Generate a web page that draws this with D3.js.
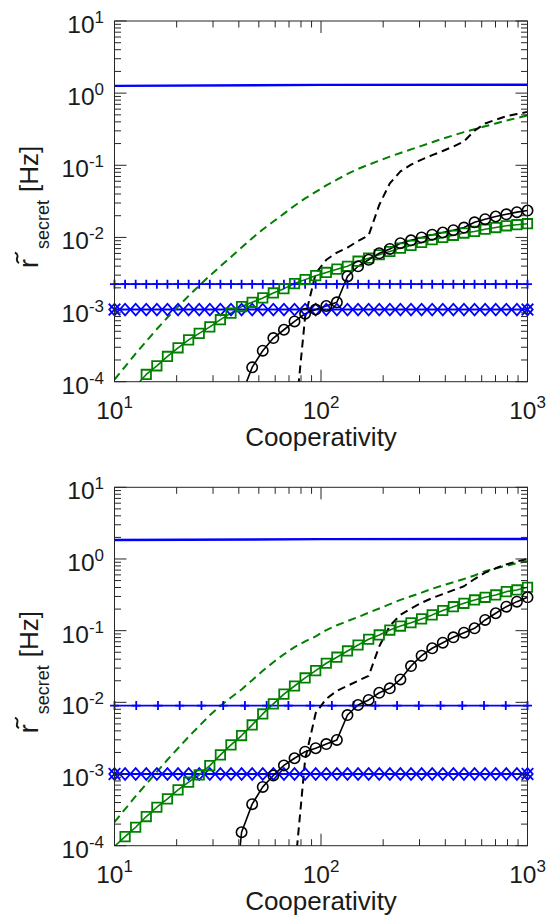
<!DOCTYPE html>
<html>
<head>
<meta charset="utf-8">
<script src="https://cdn.jsdelivr.net/npm/d3@7"></script>
<style>
  html, body { margin: 0; padding: 0; background: #fff; }
  svg { display: block; }
  text { font-family: "Liberation Sans", Arial, Helvetica, sans-serif; fill: #1a1a1a; }
</style>
</head>
<body>
<svg id="chart" width="559" height="917"></svg>
<script>
// Cooperativity sample grid (40 log-spaced points, 10 .. 1000)
const coop = [10, 11.253, 12.664, 14.251, 16.037, 18.047, 20.309, 22.854, 25.719, 28.942,
  32.569, 36.651, 41.245, 46.414, 52.231, 58.778, 66.145, 74.435, 83.764, 94.262,
  106.08, 119.37, 134.33, 151.17, 170.12, 191.44, 215.44, 242.44, 272.83, 307.02,
  345.51, 388.81, 437.54, 492.38, 554.09, 623.54, 701.70, 789.65, 888.62, 1000];
// Coarser grid (20 points) used by one of the threshold lines
const coopCoarse = [10, 12.743, 16.238, 20.691, 26.367, 33.598, 42.813, 54.556, 69.519, 88.587,
  112.88, 143.84, 183.30, 233.57, 297.64, 379.27, 483.29, 615.85, 784.76, 1000];
const coopEnds = [10, 100, 1000];

// ---- upper panel ----
const topBlueSolid = [1.26, 1.30, 1.31];
const topBluePlus = coop.map(() => 2.25e-3);
const topBlueDiamond = coop.map(() => 1.0e-3);
const topGreenDashed = [1.07e-4, 1.62e-4, 2.45e-4, 3.63e-4, 5.37e-4, 7.76e-4, 1.10e-3, 1.55e-3, 2.14e-3, 2.95e-3,
  3.98e-3, 5.37e-3, 7.24e-3, 9.77e-3, 1.29e-2, 1.66e-2, 2.14e-2, 2.75e-2, 3.47e-2, 4.27e-2,
  5.25e-2, 6.31e-2, 7.59e-2, 8.91e-2, 0.102, 0.116, 0.132, 0.148, 0.166, 0.186,
  0.209, 0.234, 0.260, 0.288, 0.316, 0.347, 0.380, 0.417, 0.452, 0.490];
const topBlackDashed = [null, null, null, null, null, null, null, null, null, null,
  null, null, null, null, null, null, null, 2.5e-5, 7.9e-4, 3.16e-3,
  4.90e-3, 6.17e-3, 7.24e-3, 8.91e-3, 1.07e-2, 2.82e-2, 5.62e-2, 8.22e-2, 0.102, 0.120,
  0.138, 0.158, 0.182, 0.214, 0.302, 0.380, 0.427, 0.479, 0.513, 0.550];
const topGreenSquares = [null, null, 8.7e-5, 1.26e-4, 1.66e-4, 2.24e-4, 2.95e-4, 3.80e-4, 4.68e-4, 5.75e-4,
  7.24e-4, 8.91e-4, 1.10e-3, 1.26e-3, 1.45e-3, 1.70e-3, 1.95e-3, 2.29e-3, 2.60e-3, 2.95e-3,
  3.27e-3, 3.63e-3, 3.98e-3, 4.68e-3, 5.16e-3, 5.75e-3, 6.38e-3, 7.11e-3, 7.76e-3, 8.51e-3,
  9.33e-3, 1.00e-2, 1.07e-2, 1.15e-2, 1.21e-2, 1.30e-2, 1.37e-2, 1.45e-2, 1.50e-2, 1.55e-2];
const topBlackCircles = [null, null, null, null, null, null, null, null, null, null,
  null, null, 6.6e-5, 1.58e-4, 2.69e-4, 4.03e-4, 5.25e-4, 6.84e-4, 8.75e-4, 1.00e-3,
  1.12e-3, 1.26e-3, 2.88e-3, 3.98e-3, 4.90e-3, 6.03e-3, 6.92e-3, 8.32e-3, 9.12e-3, 1.00e-2,
  1.09e-2, 1.17e-2, 1.26e-2, 1.37e-2, 1.62e-2, 1.79e-2, 1.95e-2, 2.09e-2, 2.24e-2, 2.36e-2];

// ---- lower panel ----
const botBlueSolid = [1.84, 1.89, 1.90];
const botBluePlus = coopCoarse.map(() => 9.0e-3);
const botBlueDiamond = coop.map(() => 1.0e-3);
const botGreenDashed = [2.14e-4, 3.24e-4, 4.90e-4, 7.24e-4, 1.07e-3, 1.58e-3, 2.29e-3, 3.31e-3, 4.68e-3, 6.61e-3,
  8.91e-3, 1.17e-2, 1.51e-2, 2.04e-2, 2.75e-2, 3.63e-2, 4.68e-2, 5.89e-2, 7.08e-2, 8.32e-2,
  0.102, 0.119, 0.136, 0.155, 0.178, 0.204, 0.234, 0.269, 0.302, 0.339,
  0.385, 0.427, 0.473, 0.525, 0.589, 0.676, 0.741, 0.804, 0.871, 0.933];
const botBlackDashed = [null, null, null, null, null, null, null, null, null, null,
  null, null, null, null, null, null, null, 4.0e-5, 1.58e-3, 7.08e-3,
  1.12e-2, 1.45e-2, 1.70e-2, 2.00e-2, 2.34e-2, 6.03e-2, 0.117, 0.166, 0.204, 0.245,
  0.285, 0.324, 0.367, 0.417, 0.525, 0.646, 0.741, 0.841, 0.923, 1.00];
const botGreenSquares = [9.8e-5, 1.34e-4, 1.81e-4, 2.55e-4, 3.44e-4, 4.50e-4, 6.00e-4, 7.69e-4, 9.70e-4, 1.31e-3,
  1.85e-3, 2.55e-3, 3.44e-3, 4.84e-3, 6.89e-3, 9.51e-3, 1.30e-2, 1.69e-2, 2.19e-2, 2.77e-2,
  3.51e-2, 4.26e-2, 5.21e-2, 6.31e-2, 7.59e-2, 8.71e-2, 0.102, 0.116, 0.129, 0.146,
  0.166, 0.191, 0.216, 0.241, 0.268, 0.292, 0.315, 0.350, 0.370, 0.403];
const botBlackCircles = [null, null, null, null, null, null, null, null, null, null,
  null, 5.0e-6, 1.54e-4, 3.80e-4, 6.61e-4, 9.55e-4, 1.32e-3, 1.66e-3, 2.05e-3, 2.29e-3,
  2.62e-3, 2.99e-3, 6.65e-3, 9.18e-3, 1.08e-2, 1.36e-2, 1.57e-2, 2.09e-2, 3.21e-2, 4.48e-2,
  5.68e-2, 6.79e-2, 8.07e-2, 9.38e-2, 0.108, 0.141, 0.175, 0.216, 0.254, 0.292];

const xDomain = [10, 1000];
const yDomain = [1e-4, 10];
const xTickLabels = [10, 100, 1000];
const yTickLabels = [1e-4, 1e-3, 1e-2, 1e-1, 1, 10];

const BLUE = "#0000ff", GREEN = "#008000", BLACK = "#000000", AXIS = "#262626";

const svg = d3.select("#chart");
svg.append("rect").attr("width", 559).attr("height", 917).attr("fill", "#fff");

const panels = [
  { top: 21, bottom: 381.7, id: "a",
    series: [
      { xs: coopEnds, ys: topBlueSolid, color: BLUE, width: 2.4 },
      { xs: coop, ys: topBluePlus, color: BLUE, width: 1.9, marker: "plus" },
      { xs: coop, ys: topBlueDiamond, color: BLUE, width: 1.9, marker: "diamond", endMarker: "x" },
      { xs: coop, ys: topGreenDashed, color: GREEN, width: 2, dash: "8,5" },
      { xs: coop, ys: topBlackDashed, color: BLACK, width: 2, dash: "8,5" },
      { xs: coop, ys: topGreenSquares, color: GREEN, width: 1.6, marker: "square" },
      { xs: coop, ys: topBlackCircles, color: BLACK, width: 1.6, marker: "circle" }
    ] },
  { top: 487.3, bottom: 845.7, id: "b",
    series: [
      { xs: coopEnds, ys: botBlueSolid, color: BLUE, width: 2.4 },
      { xs: coopCoarse, ys: botBluePlus, color: BLUE, width: 1.9, marker: "plus" },
      { xs: coop, ys: botBlueDiamond, color: BLUE, width: 1.9, marker: "diamond", endMarker: "x" },
      { xs: coop, ys: botGreenDashed, color: GREEN, width: 2, dash: "8,5" },
      { xs: coop, ys: botBlackDashed, color: BLACK, width: 2, dash: "8,5" },
      { xs: coop, ys: botGreenSquares, color: GREEN, width: 1.6, marker: "square" },
      { xs: coop, ys: botBlackCircles, color: BLACK, width: 1.6, marker: "circle" }
    ] }
];

const LEFT = 114.5, RIGHT = 527.5;

function markerPath(type) {
  switch (type) {
    case "square": return "M-4.7,-4.7H4.7V4.7H-4.7Z";
    case "diamond": return "M0,-5.8L5.2,0L0,5.8L-5.2,0Z";
    case "plus": return "M-4.5,0H4.5M0,-4.5V4.5";
    case "x": return "M-5.8,-5.8L5.8,5.8M-5.8,5.8L5.8,-5.8";
  }
  return null;
}

function drawPanel(p) {
  const x = d3.scaleLog().domain(xDomain).range([LEFT, RIGHT]);
  const y = d3.scaleLog().domain(yDomain).range([p.bottom, p.top]);
  const g = svg.append("g");

  g.append("clipPath").attr("id", "clip-" + p.id)
    .append("rect").attr("x", LEFT).attr("y", p.top)
    .attr("width", RIGHT - LEFT).attr("height", p.bottom - p.top);

  const lines = g.append("g").attr("clip-path", "url(#clip-" + p.id + ")");
  const marks = g.append("g");

  p.series.forEach(s => {
    const pts = s.xs.map((c, i) => [c, s.ys[i]]);
    const line = d3.line().defined(d => d[1] != null)
      .x(d => x(d[0])).y(d => y(d[1]));
    lines.append("path").datum(pts)
      .attr("d", line)
      .attr("fill", "none")
      .attr("stroke", s.color)
      .attr("stroke-width", s.width)
      .attr("stroke-dasharray", s.dash || null)
      .attr("stroke-linejoin", "round");

    const inside = pts.filter(d => d[1] != null && d[1] >= yDomain[0] && d[1] <= yDomain[1]);
    if (s.marker === "circle") {
      marks.selectAll(null).data(inside).enter().append("circle")
        .attr("cx", d => x(d[0])).attr("cy", d => y(d[1])).attr("r", 5.2)
        .attr("fill", "none").attr("stroke", s.color).attr("stroke-width", 1.6);
    } else if (s.marker) {
      marks.selectAll(null).data(inside).enter().append("path")
        .attr("transform", d => `translate(${x(d[0])},${y(d[1])})`)
        .attr("d", markerPath(s.marker))
        .attr("fill", "none").attr("stroke", s.color).attr("stroke-width", 1.8);
    }
    if (s.endMarker) {
      const ends = [inside[0], inside[inside.length - 1]];
      marks.selectAll(null).data(ends).enter().append("path")
        .attr("transform", d => `translate(${x(d[0])},${y(d[1])})`)
        .attr("d", markerPath(s.endMarker))
        .attr("fill", "none").attr("stroke", s.color).attr("stroke-width", 1.8);
    }
  });

  // box and inward ticks on all four sides
  const ax = g.append("g").attr("stroke", AXIS).attr("stroke-width", 1).attr("fill", "none");
  ax.append("rect").attr("x", LEFT).attr("y", p.top)
    .attr("width", RIGHT - LEFT).attr("height", p.bottom - p.top);
  const isMajor = v => Math.abs(Math.log10(v) - Math.round(Math.log10(v))) < 1e-9;
  const MAJ = 12, MIN = 6.5;
  x.ticks().forEach(v => {
    const px = x(v), L = isMajor(v) ? MAJ : MIN;
    ax.append("line").attr("x1", px).attr("x2", px).attr("y1", p.bottom).attr("y2", p.bottom - L);
    ax.append("line").attr("x1", px).attr("x2", px).attr("y1", p.top).attr("y2", p.top + L);
  });
  y.ticks().forEach(v => {
    const py = y(v), L = isMajor(v) ? MAJ : MIN;
    ax.append("line").attr("y1", py).attr("y2", py).attr("x1", LEFT).attr("x2", LEFT + L);
    ax.append("line").attr("y1", py).attr("y2", py).attr("x1", RIGHT).attr("x2", RIGHT - L);
  });

  // tick labels as powers of ten
  xTickLabels.forEach(v => {
    const t = g.append("text").attr("x", x(v)).attr("y", p.bottom + 37)
      .attr("text-anchor", "middle").attr("font-size", 24.5);
    t.append("tspan").text("10");
    t.append("tspan").attr("dy", -11).attr("font-size", 17).text(String(Math.round(Math.log10(v))));
  });
  yTickLabels.forEach(v => {
    const t = g.append("text").attr("x", 104).attr("y", y(v) + 12)
      .attr("text-anchor", "end").attr("font-size", 24.5);
    t.append("tspan").text("10");
    t.append("tspan").attr("dy", -10).attr("font-size", 17).text(String(Math.round(Math.log10(v))));
  });

  // axis titles
  g.append("text").attr("x", (LEFT + RIGHT) / 2).attr("y", p.bottom + 64.5)
    .attr("text-anchor", "middle").attr("font-size", 26).text("Cooperativity");

  const off = (p.top + p.bottom) / 2 - 201.35;
  const yl = g.append("g").attr("transform", `translate(0,${off}) rotate(-90)`);
  yl.append("text").attr("x", -268).attr("y", 38).attr("font-size", 27).text("r");
  yl.append("path")
    .attr("d", "M-263,19 C-260,13 -256,21.5 -252.5,15")
    .attr("fill", "none").attr("stroke", "#1a1a1a").attr("stroke-width", 2);
  yl.append("text").attr("x", -249).attr("y", 49).attr("font-size", 18).text("secret");
  yl.append("text").attr("x", -192).attr("y", 38).attr("font-size", 26).text("[Hz]");
}

panels.forEach(drawPanel);
</script>
</body>
</html>
